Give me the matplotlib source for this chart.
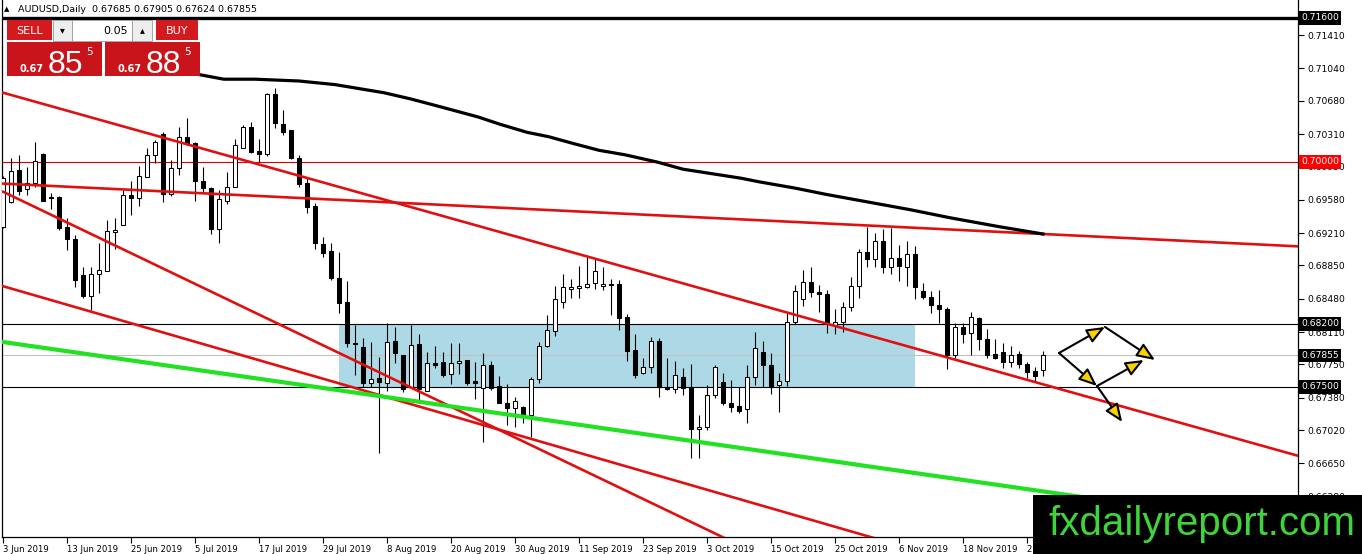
import numpy as np
import matplotlib
matplotlib.use("Agg")
import matplotlib.pyplot as plt
from matplotlib.patches import Rectangle, FancyArrowPatch

# ---------------- data ----------------
symbol_header = "AUDUSD,Daily  0.67685 0.67905 0.67624 0.67855"
date_labels = ["3 Jun 2019", "13 Jun 2019", "25 Jun 2019", "5 Jul 2019", "17 Jul 2019",
               "29 Jul 2019", "8 Aug 2019", "20 Aug 2019", "30 Aug 2019", "11 Sep 2019",
               "23 Sep 2019", "3 Oct 2019", "15 Oct 2019", "25 Oct 2019", "6 Nov 2019",
               "18 Nov 2019", "28 Nov 2019"]
date_label_step = 8

opens = [
    0.6928, 0.6956, 0.6991, 0.6970, 0.6977, 0.7009, 0.6961, 0.6961, 0.6928, 0.6914,
    0.6874, 0.6851, 0.6876, 0.6879, 0.6922, 0.6930, 0.6963, 0.6960, 0.6983, 0.7008,
    0.7031, 0.6964, 0.6993, 0.7028, 0.7021, 0.6979, 0.6971, 0.6926, 0.6957, 0.6972,
    0.7016, 0.7039, 0.7012, 0.7009, 0.7076, 0.7042, 0.7036, 0.7004, 0.6977, 0.6951,
    0.6909, 0.6901, 0.6871, 0.6844, 0.6799, 0.6794, 0.6754, 0.6760, 0.6754, 0.6801,
    0.6786, 0.6750, 0.6798, 0.6746, 0.6777, 0.6778, 0.6764, 0.6777, 0.6780, 0.6757,
    0.6749, 0.6774, 0.6751, 0.6732, 0.6727, 0.6728, 0.6719, 0.6759, 0.6796, 0.6812,
    0.6844, 0.6859, 0.6860, 0.6861, 0.6866, 0.6862, 0.6864, 0.6864, 0.6828, 0.6791,
    0.6766, 0.6772, 0.6801, 0.6750, 0.6748, 0.6761, 0.6750, 0.6703, 0.6706, 0.6741,
    0.6756, 0.6732, 0.6729, 0.6726, 0.6761, 0.6789, 0.6774, 0.6752, 0.6757, 0.6822,
    0.6848, 0.6867, 0.6856, 0.6853, 0.6819, 0.6822, 0.6839, 0.6862, 0.6900, 0.6892,
    0.6912, 0.6883, 0.6893, 0.6883, 0.6898, 0.6857, 0.6850, 0.6841, 0.6837, 0.6786,
    0.6817, 0.6810, 0.6827, 0.6803, 0.6787, 0.6789, 0.6778, 0.6787, 0.6776, 0.6768,
    0.67685]
highs = [
    0.6984, 0.7004, 0.7008, 0.6994, 0.7022, 0.7010, 0.6966, 0.6962, 0.6938, 0.6919,
    0.6883, 0.6883, 0.6910, 0.6936, 0.6938, 0.6969, 0.6979, 0.6996, 0.7016, 0.7024,
    0.7033, 0.7002, 0.7039, 0.7049, 0.7022, 0.6994, 0.6972, 0.6969, 0.6989, 0.7026,
    0.7041, 0.7044, 0.7026, 0.7077, 0.7082, 0.7058, 0.7036, 0.7008, 0.6982, 0.6954,
    0.6917, 0.6910, 0.6900, 0.6868, 0.6819, 0.6804, 0.6800, 0.6783, 0.6821, 0.6817,
    0.6786, 0.6819, 0.6809, 0.6789, 0.6796, 0.6789, 0.6799, 0.6799, 0.6780, 0.6778,
    0.6788, 0.6779, 0.6762, 0.6753, 0.6739, 0.6729, 0.6761, 0.6800, 0.6830, 0.6862,
    0.6876, 0.6870, 0.6884, 0.6894, 0.6892, 0.6883, 0.6870, 0.6869, 0.6831, 0.6809,
    0.6782, 0.6806, 0.6804, 0.6782, 0.6779, 0.6771, 0.6776, 0.6719, 0.6752, 0.6774,
    0.6766, 0.6758, 0.6750, 0.6774, 0.6811, 0.6801, 0.6788, 0.6766, 0.6832, 0.6863,
    0.6880, 0.6883, 0.6863, 0.6858, 0.6837, 0.6844, 0.6872, 0.6903, 0.6928, 0.6921,
    0.6926, 0.6927, 0.6908, 0.6912, 0.6907, 0.6866, 0.6857, 0.6858, 0.6839, 0.6821,
    0.6821, 0.6833, 0.6828, 0.6814, 0.6803, 0.6799, 0.6796, 0.6790, 0.6778, 0.6772,
    0.67905]
lows = [
    0.6927, 0.6954, 0.6963, 0.6963, 0.6972, 0.6957, 0.6948, 0.6924, 0.6902, 0.6861,
    0.6849, 0.6836, 0.6854, 0.6879, 0.6903, 0.6930, 0.6941, 0.6951, 0.6983, 0.6999,
    0.6956, 0.6962, 0.6986, 0.7019, 0.6957, 0.6967, 0.6920, 0.6910, 0.6953, 0.6972,
    0.7016, 0.7010, 0.7000, 0.7007, 0.7038, 0.7030, 0.7003, 0.6972, 0.6943, 0.6903,
    0.6894, 0.6869, 0.6832, 0.6794, 0.6763, 0.6750, 0.6750, 0.6677, 0.6746, 0.6777,
    0.6744, 0.6750, 0.6736, 0.6746, 0.6771, 0.6761, 0.6753, 0.6764, 0.6752, 0.6737,
    0.6689, 0.6747, 0.6732, 0.6708, 0.6706, 0.6710, 0.6694, 0.6754, 0.6794, 0.6807,
    0.6838, 0.6849, 0.6849, 0.6860, 0.6859, 0.6858, 0.6830, 0.6813, 0.6779, 0.6760,
    0.6764, 0.6766, 0.6739, 0.6747, 0.6743, 0.6741, 0.6671, 0.6671, 0.6702, 0.6738,
    0.6730, 0.6722, 0.6721, 0.6710, 0.6752, 0.6750, 0.6742, 0.6722, 0.6751, 0.6820,
    0.6840, 0.6850, 0.6833, 0.6810, 0.6809, 0.6811, 0.6834, 0.6849, 0.6883, 0.6883,
    0.6877, 0.6876, 0.6868, 0.6862, 0.6848, 0.6848, 0.6832, 0.6821, 0.6770, 0.6782,
    0.6799, 0.6786, 0.6791, 0.6782, 0.6781, 0.6771, 0.6772, 0.6771, 0.6760, 0.6757,
    0.67624]
closes = [
    0.6982, 0.6990, 0.6968, 0.6977, 0.7001, 0.6957, 0.6960, 0.6927, 0.6914, 0.6869,
    0.6851, 0.6876, 0.6880, 0.6923, 0.6924, 0.6963, 0.6960, 0.6984, 0.7008, 0.7022,
    0.6964, 0.6993, 0.7028, 0.7021, 0.6979, 0.6971, 0.6926, 0.6959, 0.6972, 0.7019,
    0.7039, 0.7011, 0.7009, 0.7076, 0.7043, 0.7033, 0.7004, 0.6976, 0.6950, 0.6910,
    0.6899, 0.6871, 0.6843, 0.6799, 0.6798, 0.6754, 0.6759, 0.6756, 0.6800, 0.6788,
    0.6748, 0.6797, 0.6748, 0.6777, 0.6774, 0.6763, 0.6777, 0.6779, 0.6754, 0.6754,
    0.6774, 0.6749, 0.6732, 0.6727, 0.6734, 0.6719, 0.6759, 0.6796, 0.6813, 0.6848,
    0.6861, 0.6861, 0.6862, 0.6864, 0.6879, 0.6864, 0.6863, 0.6827, 0.6790, 0.6763,
    0.6772, 0.6801, 0.6750, 0.6748, 0.6763, 0.6749, 0.6703, 0.6706, 0.6741, 0.6772,
    0.6732, 0.6728, 0.6723, 0.6761, 0.6793, 0.6774, 0.6750, 0.6757, 0.6822, 0.6857,
    0.6867, 0.6856, 0.6853, 0.6820, 0.6822, 0.6839, 0.6862, 0.6900, 0.6892, 0.6912,
    0.6883, 0.6893, 0.6884, 0.6898, 0.6861, 0.6850, 0.6841, 0.6837, 0.6786, 0.6817,
    0.6809, 0.6828, 0.6803, 0.6786, 0.6782, 0.6778, 0.6786, 0.6776, 0.6767, 0.6762,
    0.67855]

# moving average (read at sampled bars)
ma_bar = [24.6, 27.6, 31.5, 37, 41.5, 47.6, 51, 54.4, 59.4, 62.1, 65.5, 68.25, 71.1,
          74.5, 77.75, 81.75, 85, 87.9, 92.25, 94.5, 99, 102.9, 113.4, 118.4, 124.6, 130]
ma_val = [0.7097, 0.7092, 0.7092, 0.7090, 0.7086, 0.7077, 0.7070, 0.7062, 0.7050, 0.7042,
          0.7033, 0.7028, 0.7021, 0.7013, 0.7008, 0.7000, 0.6992, 0.6988, 0.6982, 0.6978,
          0.6971, 0.6964, 0.6947, 0.6938, 0.6928, 0.6920]

# trend lines: two anchor points each (bar, price)
red_lines = [((0, 0.7077), (130, 0.6753)),
             ((0, 0.6976), (130, 0.6920)),
             ((0, 0.6967), (60, 0.6711)),
             ((0, 0.6862), (100, 0.6605))]
green_line = ((0, 0.6800), (130, 0.6634))

level_top = 0.71600
level_round = 0.70000
zone_high = 0.68200
zone_low = 0.67500
bid_price = 0.67855
zone_bars = (42, 114)

price_ticks = [0.71410, 0.71040, 0.70680, 0.70310, 0.69950, 0.69580, 0.69210, 0.68850,
               0.68480, 0.68110, 0.67750, 0.67380, 0.67020, 0.66650, 0.66280]

# scenario arrows (bar, price)
arrow_paths = [((132, 0.67878), (137.75, 0.68167)),
               ((137.75, 0.68167), (144, 0.67800)),
               ((132, 0.67878), (136.75, 0.67511)),
               ((136.75, 0.67511), (142.6, 0.67800)),
               ((136.75, 0.67511), (139.9, 0.67111))]

sell_price = ("0.67", "85", "5")
buy_price = ("0.67", "88", "5")
lot_size = "0.05"
watermark = "fxdailyreport.com"

# ---------------- figure ----------------
W, H = 1362, 554
fig = plt.figure(figsize=(W / 100, H / 100), dpi=100)
fig.patch.set_facecolor("white")
ax = fig.add_axes([2 / W, 17 / H, 1296 / W, 537 / H])
ax.set_xlim(-0.125, 161.875)
ax.set_ylim(0.658333, 0.718)

o = np.array(opens); h = np.array(highs); l = np.array(lows); c = np.array(closes)
x = np.arange(len(o))
up = c >= o
ax.vlines(x, l, h, color="black", lw=0.8, zorder=3)
bb = np.minimum(o, c)
bh = np.maximum(np.abs(c - o), 0.00004)
ax.bar(x[up], bh[up], bottom=bb[up], width=0.55, facecolor="white",
       edgecolor="black", linewidth=0.75, zorder=4)
ax.bar(x[~up], bh[~up], bottom=bb[~up], width=0.55, facecolor="black",
       edgecolor="black", linewidth=0.75, zorder=4)

# zone rectangle
ax.add_patch(Rectangle((zone_bars[0], zone_low), zone_bars[1] - zone_bars[0],
                       zone_high - zone_low, facecolor="#add8e6", edgecolor="none", zorder=1))

# horizontal levels
ax.axhline(level_top, color="black", lw=2.4, zorder=2)
ax.axhline(level_round, color="#e00000", lw=0.8, zorder=2)
ax.axhline(zone_high, color="black", lw=0.8, zorder=2)
ax.axhline(zone_low, color="black", lw=0.8, zorder=2)
ax.axhline(bid_price, color="#c0c0c0", lw=0.8, zorder=2)

# trend lines (rays across the chart)
xl = np.array(ax.get_xlim())
def ray(p0, p1):
    s = (p1[1] - p0[1]) / (p1[0] - p0[0])
    return xl, p0[1] + s * (xl - p0[0])
for p0, p1 in red_lines:
    xs, ys = ray(p0, p1)
    ax.plot(xs, ys, color="#e01010", lw=1.9, zorder=5, solid_capstyle="butt")
xs, ys = ray(*green_line)
ax.plot(xs, ys, color="#22e022", lw=3.0, zorder=5)

# moving average
ax.plot(ma_bar, ma_val, color="black", lw=2.3, zorder=5)

# arrows
for pa, pb in arrow_paths:
    ar = FancyArrowPatch(pa, pb, arrowstyle="-|>,head_length=11,head_width=4.5",
                         mutation_scale=1, facecolor="#f7d100", edgecolor="black",
                         lw=1.5, shrinkA=0, shrinkB=0, zorder=7)
    ax.add_patch(ar)

# axes style
ax.spines["top"].set_visible(False)
for s in ["left", "right", "bottom"]:
    ax.spines[s].set_linewidth(0.9)
    ax.spines[s].set_color("black")
ax.yaxis.tick_right()
ax.set_yticks(price_ticks)
ax.set_yticklabels([f"{v:.5f}" for v in price_ticks])
ax.tick_params(axis="y", direction="out", length=4, width=0.8, pad=3, labelsize=6.6)
ticks_x = [i * date_label_step for i in range(len(date_labels))]
ax.set_xticks(ticks_x)
ax.set_xticklabels(date_labels)
ax.tick_params(axis="x", direction="out", length=4, width=0.8, pad=1.5, labelsize=6.1)
for t in ax.get_xticklabels():
    t.set_horizontalalignment("left")

# highlighted price labels
for val, col in [(level_top, "black"), (level_round, "#ff0000"), (zone_high, "black"),
                 (bid_price, "black"), (zone_low, "black")]:
    ax.text(1.0025, val, f"{val:.5f}", transform=ax.get_yaxis_transform(),
            color="white", fontsize=6.6, va="center", ha="left", clip_on=False, zorder=10,
            bbox=dict(boxstyle="square,pad=0.22", facecolor=col, edgecolor="none"))

# ---------------- figure overlays ----------------
def prect(x0, y0, x1, y1, **kw):
    r = Rectangle((x0 / W, 1 - y1 / H), (x1 - x0) / W, (y1 - y0) / H,
                  transform=fig.transFigure, **kw)
    fig.add_artist(r)

def ptext(xp, yp, s, **kw):
    fig.text(xp / W, 1 - yp / H, s, **kw)

# header
ptext(4, 9, "▲", fontsize=5, va="center", ha="left", color="black")
ptext(18, 9, symbol_header, fontsize=6.8, va="center", ha="left", color="black")

# trading panel
red = "#c8141a"
prect(7, 20, 52, 40, facecolor="#d21a1f", edgecolor="none", zorder=20)
ptext(29.5, 30.5, "SELL", fontsize=8, color="white", ha="center", va="center", zorder=21)
prect(53, 20, 72, 41, facecolor="#eeeeee", edgecolor="#9a9a9a", lw=0.6, zorder=20)
ptext(62.5, 30.5, "▾", fontsize=7, color="black", ha="center", va="center", zorder=21)
prect(72, 20, 132, 41, facecolor="white", edgecolor="#9a9a9a", lw=0.6, zorder=20)
ptext(128, 30.5, lot_size, fontsize=8, color="black", ha="right", va="center", zorder=21)
prect(132, 20, 152, 41, facecolor="#eeeeee", edgecolor="#9a9a9a", lw=0.6, zorder=20)
ptext(142, 30.5, "▴", fontsize=7, color="black", ha="center", va="center", zorder=21)
prect(156, 20, 198, 40, facecolor="#d21a1f", edgecolor="none", zorder=20)
ptext(177, 30.5, "BUY", fontsize=8, color="white", ha="center", va="center", zorder=21)
for (bx0, bx1), (small, big, sup), tx in [((7, 102), sell_price, (19, 48, 86)),
                                          ((105, 200), buy_price, (117, 146, 184))]:
    prect(bx0, 42, bx1, 76, facecolor=red, edgecolor="none", zorder=20)
    ptext(tx[0], 72, small, fontsize=7, fontweight="bold", color="white",
          ha="left", va="baseline", zorder=21)
    ptext(tx[1], 73, big, fontsize=23, family="Liberation Sans", color="white",
          ha="left", va="baseline", zorder=21)
    ptext(tx[2], 52, sup, fontsize=7.5, color="white", ha="left", va="center", zorder=21)

# watermark
prect(1033, 495, 1362, 554, facecolor="black", edgecolor="none", zorder=30)
ptext(1048, 535, watermark, fontsize=29, family="Liberation Sans", color="#3ed43a",
      ha="left", va="baseline", zorder=31)

fig.savefig("out.png", dpi=100)
